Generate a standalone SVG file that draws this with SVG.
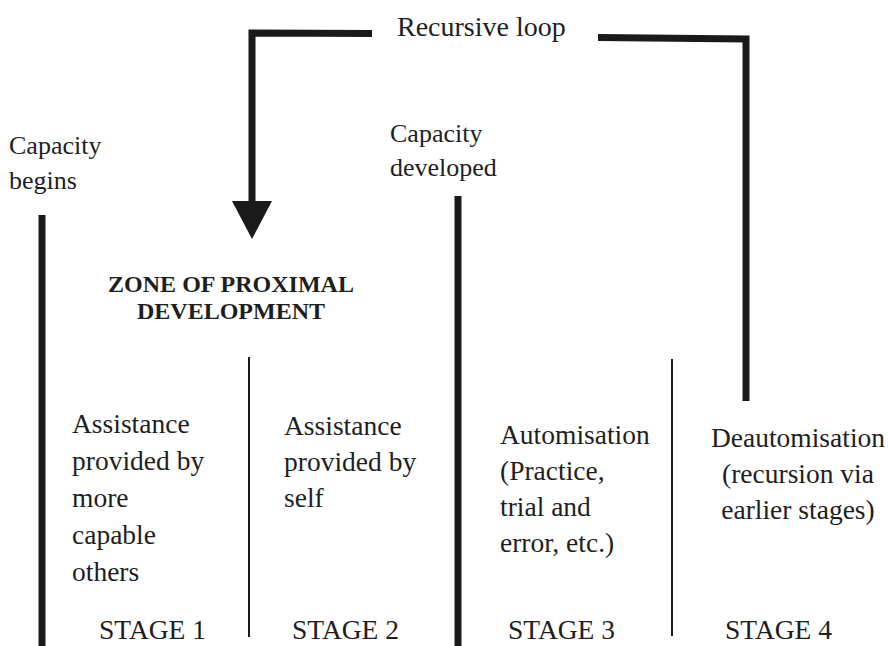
<svg xmlns="http://www.w3.org/2000/svg" width="888" height="646" viewBox="0 0 888 646">
<style>
text{font-family:"Liberation Serif","Times New Roman",serif;fill:#1e1e1e;font-size:27.5px}
.cap{font-size:26px}
.zpd{font-size:24px;font-weight:bold;text-anchor:middle}
.mid{text-anchor:middle}
.thick{stroke:#1a1a1a;stroke-width:7;fill:none}
.thin{stroke:#1a1a1a;stroke-width:2;fill:none}
</style>
<rect width="888" height="646" fill="#ffffff"/>
<g id="connectors">
<path class="thick" d="M372 33.5 L252 33 L252 203"/>
<polygon points="232,201 272,201 252,239" fill="#1a1a1a"/>
<path class="thick" d="M598 37.5 L746 39 L746 401"/>
</g>
<g id="dividers">
<line class="thick" x1="42" y1="215" x2="42" y2="646"/>
<line class="thick" x1="458" y1="196" x2="458" y2="646"/>
<line class="thin" x1="249" y1="357" x2="249" y2="637"/>
<line class="thin" x1="672" y1="359" x2="672" y2="636"/>
</g>
<g id="loop-label"><text x="397" y="36" style="font-size:28px">Recursive loop</text></g>
<g id="capacity-begins"><text class="cap" x="9" y="154">Capacity</text><text class="cap" x="9" y="189">begins</text></g>
<g id="capacity-developed"><text class="cap" x="390" y="142">Capacity</text><text class="cap" x="390" y="176">developed</text></g>
<g id="zpd"><text class="zpd" x="231" y="292">ZONE OF PROXIMAL</text><text class="zpd" x="231" y="319">DEVELOPMENT</text></g>
<g id="stage1-text"><text x="72" y="433">Assistance</text><text x="72" y="470">provided by</text><text x="72" y="507">more</text><text x="72" y="544">capable</text><text x="72" y="581">others</text></g>
<g id="stage2-text"><text x="284" y="435">Assistance</text><text x="284" y="471">provided by</text><text x="284" y="507">self</text></g>
<g id="stage3-text"><text x="500" y="444">Automisation</text><text x="500" y="480">(Practice,</text><text x="500" y="516">trial and</text><text x="500" y="552">error, etc.)</text></g>
<g id="stage4-text"><text class="mid" x="798" y="447">Deautomisation</text><text class="mid" x="798" y="483">(recursion via</text><text class="mid" x="798" y="519">earlier stages)</text></g>
<g id="stages"><text x="99" y="639">STAGE 1</text><text x="292" y="639">STAGE 2</text><text x="508" y="639">STAGE 3</text><text x="725" y="639">STAGE 4</text></g>
</svg>
